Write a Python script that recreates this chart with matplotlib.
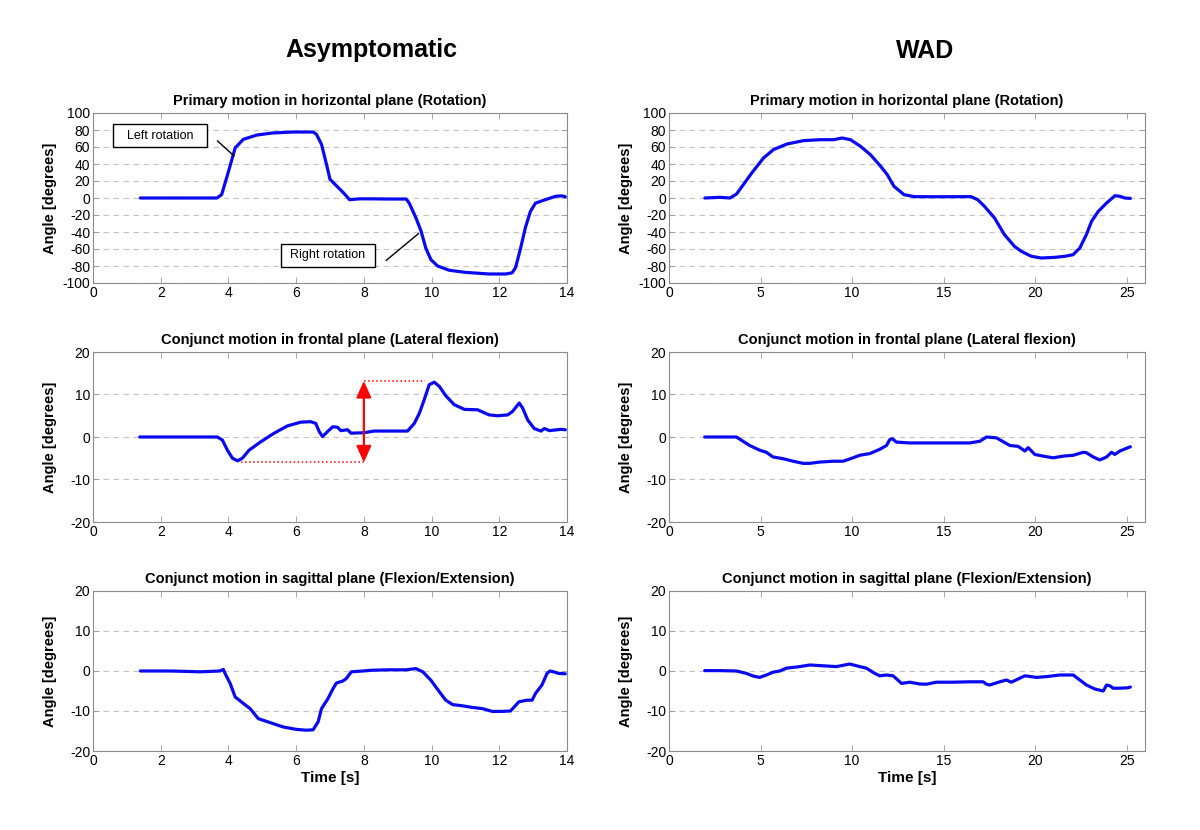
import matplotlib
matplotlib.use("Agg")
import matplotlib.pyplot as plt
from matplotlib.patches import Rectangle

plt.rcParams['font.family'] = ['Liberation Sans', 'DejaVu Sans']
plt.rcParams['axes.unicode_minus'] = False

# ---------------- data ----------------
group_titles = ["Asymptomatic", "WAD"]
panel_titles = ["Primary motion in horizontal plane (Rotation)",
                "Conjunct motion in frontal plane (Lateral flexion)",
                "Conjunct motion in sagittal plane (Flexion/Extension)"]
y_label = "Angle [degrees]"
x_label = "Time [s]"

asym_rot_t = [1.4, 2.5, 3.66, 3.8, 4.0, 4.2, 4.44, 4.83, 5.3, 5.9, 6.5, 6.6, 6.75, 6.9, 7.0, 7.2, 7.4,
              7.58, 7.87, 8.26, 8.75, 9.25, 9.34, 9.54, 9.69, 9.83, 9.98, 10.18, 10.52, 11.0, 11.7,
              12.19, 12.38, 12.48, 12.63, 12.77, 12.92, 13.07, 13.36, 13.66, 13.85, 13.95]
asym_rot_v = [0, 0, 0, 4, 31, 59, 69, 74, 76.5, 77.6, 77.6, 75, 63, 39, 22, 14, 6,
              -2, -1, -1, -1.2, -1.2, -6, -23.5, -39, -59, -72.5, -80, -85, -87.5, -89.4,
              -89.4, -88, -82, -59, -35, -15.7, -6, -2, 2, 2.5, 1.5]

asym_lat_t = [1.38, 2.5, 3.67, 3.82, 3.97, 4.12, 4.27, 4.41, 4.61, 4.96, 5.35, 5.74, 6.14, 6.43, 6.58,
              6.68, 6.78, 6.93, 7.08, 7.22, 7.32, 7.52, 7.62, 8.0, 8.3, 8.8, 9.29, 9.49, 9.64, 9.78,
              9.93, 10.08, 10.23, 10.42, 10.67, 10.97, 11.36, 11.7, 11.95, 12.25, 12.39, 12.59,
              12.69, 12.84, 13.03, 13.23, 13.33, 13.48, 13.82, 13.95]
asym_lat_v = [0, 0, 0, -0.7, -3.1, -5, -5.6, -5, -3.1, -1.1, 0.9, 2.6, 3.5, 3.6, 3.2,
              1.3, 0.1, 1.3, 2.4, 2.3, 1.5, 1.7, 0.9, 1.0, 1.4, 1.4, 1.4, 3.2, 5.6, 8.7,
              12.3, 12.9, 11.9, 9.7, 7.6, 6.5, 6.4, 5.2, 5.0, 5.2, 6.0, 8.0,
              6.8, 4.0, 2.0, 1.4, 2.0, 1.5, 1.8, 1.7]

asym_sag_t = [1.4, 2.3, 3.17, 3.75, 3.85, 3.9, 4.05, 4.2, 4.44, 4.64, 4.88, 5.23, 5.62, 6.01, 6.3,
              6.5, 6.65, 6.75, 6.94, 7.09, 7.19, 7.38, 7.48, 7.63, 7.97, 8.26, 8.75, 9.25, 9.54,
              9.74, 9.98, 10.23, 10.42, 10.62, 10.91, 11.2, 11.5, 11.79, 12.09, 12.33, 12.58,
              12.82, 12.97, 13.07, 13.26, 13.41, 13.5, 13.6, 13.75, 13.95]
asym_sag_v = [0, 0, -0.2, 0, 0.4, -0.6, -3.1, -6.5, -8.1, -9.4, -11.9, -12.9, -14.0, -14.6, -14.8,
              -14.7, -12.7, -9.4, -6.9, -4.4, -3.0, -2.5, -1.9, -0.2, 0, 0.2, 0.3, 0.3, 0.6,
              -0.2, -2.3, -5.2, -7.3, -8.4, -8.7, -9.1, -9.4, -10.1, -10.1, -10.0, -7.7,
              -7.3, -7.3, -5.6, -3.5, -0.6, 0, -0.2, -0.6, -0.7]

wad_rot_t = [1.96, 2.78, 3.33, 3.69, 4.06, 4.52, 5.16, 5.71, 6.44, 7.35, 8.27, 9.0, 9.45, 9.91,
             10.46, 11.0, 11.56, 11.92, 12.29, 12.84, 13.39, 14.67, 16.5, 16.86, 17.23, 17.78,
             18.32, 18.87, 19.24, 19.79, 20.34, 21.07, 21.62, 22.07, 22.44, 22.8, 23.08, 23.45,
             23.9, 24.36, 24.63, 24.9, 25.2]
wad_rot_v = [0, 0.8, 0, 4.7, 15.7, 29.4, 47, 57, 63.5, 67.5, 68.6, 68.6, 70.6, 68.6,
             60.8, 51, 37.3, 27.5, 13.7, 3.9, 1.6, 1.5, 1.6, -2, -9.8, -23.5,
             -43, -56.9, -62.7, -68.6, -70.6, -69.8, -68.6, -66.7, -58.8, -43, -27.5, -15.7,
             -5.9, 2.7, 2, 0, -0.5]

wad_lat_t = [1.95, 2.77, 3.68, 4.04, 4.41, 4.95, 5.32, 5.68, 6.23, 6.78, 7.32, 7.69, 8.23, 8.96,
             9.51, 10.05, 10.42, 10.97, 11.51, 11.88, 12.06, 12.2, 12.42, 13.15, 14.6, 16.43,
             16.98, 17.34, 17.89, 18.25, 18.62, 19.07, 19.44, 19.62, 19.98, 20.44, 20.98, 21.53,
             22.08, 22.62, 22.8, 23.17, 23.53, 23.9, 24.17, 24.35, 24.63, 25.08, 25.2]
wad_lat_v = [0, 0, 0, -1, -2, -3.1, -3.6, -4.7, -5.1, -5.7, -6.2, -6.2, -5.9, -5.7,
             -5.7, -4.9, -4.3, -3.9, -2.9, -2.0, -0.6, -0.4, -1.2, -1.4, -1.4, -1.4,
             -1.0, 0, -0.2, -1.1, -2.0, -2.2, -3.3, -2.5, -4.1, -4.5, -4.9, -4.5,
             -4.3, -3.6, -3.7, -4.7, -5.4, -4.7, -3.6, -4.1, -3.3, -2.5, -2.3]

wad_sag_t = [1.95, 2.77, 3.68, 4.23, 4.59, 4.95, 5.32, 5.68, 6.05, 6.41, 7.14, 7.69, 8.42, 9.15,
             9.87, 10.42, 10.78, 11.24, 11.51, 11.88, 12.24, 12.7, 13.15, 13.7, 14.07, 14.6,
             15.5, 16.43, 17.16, 17.34, 17.52, 18.07, 18.43, 18.7, 19.16, 19.44, 20.07, 20.62,
             21.35, 22.08, 22.44, 22.8, 23.26, 23.72, 23.9, 24.08, 24.26, 24.63, 25.08, 25.2]
wad_sag_v = [0.1, 0.1, 0, -0.6, -1.25, -1.6, -1, -0.3, 0, 0.7, 1.1, 1.5, 1.3, 1.1,
             1.75, 1.1, 0.7, -0.6, -1.2, -1, -1.2, -3.1, -2.8, -3.25, -3.3, -2.8,
             -2.8, -2.7, -2.7, -3.3, -3.5, -2.7, -2.25, -2.8, -1.8, -1.2, -1.6, -1.4,
             -1, -1, -2.25, -3.5, -4.5, -5, -3.5, -3.7, -4.3, -4.3, -4.2, -4.0]

rot_ticks = list(range(-100, 101, 20))
conj_ticks = [-20, -10, 0, 10, 20]
left_xticks = list(range(0, 15, 2))
right_xticks = list(range(0, 26, 5))

series = [[(asym_rot_t, asym_rot_v), (wad_rot_t, wad_rot_v)],
          [(asym_lat_t, asym_lat_v), (wad_lat_t, wad_lat_v)],
          [(asym_sag_t, asym_sag_v), (wad_sag_t, wad_sag_v)]]

# ---------------- figure ----------------
fig = plt.figure(figsize=(12, 8.3), dpi=100)
W, H = 1200, 830
col_x = [(93, 567), (669, 1145)]
row_y = [(113, 283), (352, 522), (591, 751)]
xlims = [(0, 14), (0, 26)]
xticks = [left_xticks, right_xticks]

axes = {}
for r in range(3):
    for c in range(2):
        x0, x1 = col_x[c]
        y0, y1 = row_y[r]
        ax = fig.add_axes([x0 / W, 1 - y1 / H, (x1 - x0) / W, (y1 - y0) / H])
        axes[(r, c)] = ax
        t, v = series[r][c]
        ax.plot(t, v, color='#0a0af0', lw=2.3, solid_joinstyle='round',
                solid_capstyle='round', zorder=3)
        ax.set_xlim(*xlims[c])
        ax.set_xticks(xticks[c])
        if r == 0:
            ax.set_ylim(-100, 100)
            ax.set_yticks(rot_ticks)
        else:
            ax.set_ylim(-20, 20)
            ax.set_yticks(conj_ticks)
        ax.grid(axis='y', color='#c4c4c4', linestyle=(0, (5, 4)), lw=0.8)
        ax.tick_params(direction='in', length=4, width=0.6, color='#9a9a9a',
                       top=True, right=True, labelsize=10, pad=2)
        for sp in ax.spines.values():
            sp.set_color('#8c8c8c')
            sp.set_linewidth(0.8)
        ax.set_title(panel_titles[r], fontsize=10.5, fontweight='bold', pad=6)
        ax.set_ylabel(y_label, fontsize=10.5, fontweight='bold')
        ax.yaxis.set_label_coords(-0.075, 0.5)
        if r == 2:
            ax.set_xlabel(x_label, fontsize=11, fontweight='bold', labelpad=2)

fig.text(371 / W, 1 - 50 / H, group_titles[0], fontsize=18, fontweight='bold',
         ha='center', va='center')
fig.text(925 / W, 1 - 51 / H, group_titles[1], fontsize=18, fontweight='bold',
         ha='center', va='center')

# annotations top-left
ax = axes[(0, 0)]
ax.add_patch(Rectangle((0.6, 60.4), 2.76, 27.0, facecolor='white', edgecolor='black',
                       lw=1.0, zorder=4))
ax.text(1.98, 73.5, "Left rotation", fontsize=9, ha='center', va='center', zorder=5)
ax.plot([3.68, 4.16], [67, 49.7], color='black', lw=1.0, zorder=4)
ax.add_patch(Rectangle((5.56, -80.8), 2.76, 27.0, facecolor='white', edgecolor='black',
                       lw=1.0, zorder=4))
ax.text(6.94, -67.5, "Right rotation", fontsize=9, ha='center', va='center', zorder=5)
ax.plot([8.66, 9.61], [-73.4, -42], color='black', lw=1.0, zorder=4)

# red range arrow middle-left
ax = axes[(1, 0)]
ax.plot([8.0, 9.8], [13.2, 13.2], color='red', ls=':', lw=1.1, zorder=4)
ax.plot([4.38, 8.0], [-6.0, -6.0], color='red', ls=':', lw=1.1, zorder=4)
ax.annotate("", xy=(8.0, 13.2), xytext=(8.0, -6.0),
            arrowprops=dict(arrowstyle='<|-|>,head_length=1.0,head_width=0.45',
                            color='red', lw=1.6, shrinkA=0, shrinkB=0), zorder=5)

fig.savefig("out.png", dpi=100, facecolor='white')
